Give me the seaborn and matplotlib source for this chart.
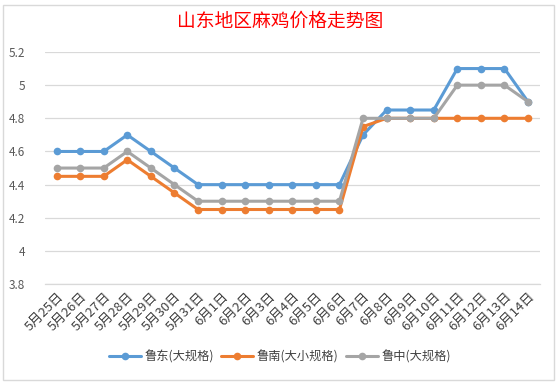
import pandas as pd
import numpy as np
import matplotlib
matplotlib.use("Agg")
import matplotlib.pyplot as plt
import seaborn as sns
from matplotlib.patches import Rectangle

dates = ["5月25日", "5月26日", "5月27日", "5月28日", "5月29日", "5月30日", "5月31日",
         "6月1日", "6月2日", "6月3日", "6月4日", "6月5日", "6月6日", "6月7日",
         "6月8日", "6月9日", "6月10日", "6月11日", "6月12日", "6月13日", "6月14日"]
ludong = [4.6, 4.6, 4.6, 4.7, 4.6, 4.5, 4.4, 4.4, 4.4, 4.4, 4.4, 4.4, 4.4, 4.7,
          4.85, 4.85, 4.85, 5.1, 5.1, 5.1, 4.9]
lunan = [4.45, 4.45, 4.45, 4.55, 4.45, 4.35, 4.25, 4.25, 4.25, 4.25, 4.25, 4.25, 4.25, 4.75,
         4.8, 4.8, 4.8, 4.8, 4.8, 4.8, 4.8]
luzhong = [4.5, 4.5, 4.5, 4.6, 4.5, 4.4, 4.3, 4.3, 4.3, 4.3, 4.3, 4.3, 4.3, 4.8,
           4.8, 4.8, 4.8, 5.0, 5.0, 5.0, 4.9]
series_names = ["鲁东(大规格)", "鲁南(大小规格)", "鲁中(大规格)"]
colors = ["#5B9BD5", "#ED7D31", "#A5A5A5"]

sns.set_style("white")
plt.rcParams['font.family'] = ['Noto Sans CJK SC', 'DejaVu Sans']

df = pd.DataFrame({
    "x": list(range(len(dates))) * 3,
    "price": ludong + lunan + luzhong,
    "series": [n for n in series_names for _ in dates],
})

fig = plt.figure(figsize=(5.6, 3.85), dpi=100)
ax = fig.add_axes([0.080, 0.262, 0.884, 0.603])

sns.lineplot(data=df, x="x", y="price", hue="series", hue_order=series_names,
             palette=colors, marker="o", markersize=5.5, markeredgewidth=0,
             linewidth=2.2, ax=ax, legend=True)

ax.set_xlim(-0.5, len(dates) - 0.5)
ax.set_ylim(3.8, 5.2)
ax.set_yticks(np.arange(3.8, 5.21, 0.2))
ax.set_yticklabels(["3.8", "4", "4.2", "4.4", "4.6", "4.8", "5", "5.2"])
ax.yaxis.grid(True, color="#D9D9D9", linewidth=0.9)
ax.set_axisbelow(True)
ax.set_xticks(range(len(dates)))
ax.set_xticklabels(dates, rotation=45, ha="right", rotation_mode="anchor")
ax.set_xticks(np.arange(-0.5, len(dates), 1), minor=True)
ax.tick_params(axis="x", which="major", length=0, labelsize=9.5, labelcolor="#404040", pad=4)
ax.tick_params(axis="x", which="minor", length=4, color="#D9D9D9", width=0.9)
ax.tick_params(axis="y", length=0, labelsize=8.5, labelcolor="#595959", pad=14)
for s in ["top", "right", "left"]:
    ax.spines[s].set_visible(False)
ax.spines["bottom"].set_color("#D9D9D9")
ax.spines["bottom"].set_linewidth(0.9)
ax.set_xlabel("")
ax.set_ylabel("")

handles, labels = ax.get_legend_handles_labels()
ax.legend(handles, labels, loc="center", bbox_to_anchor=(0.5, 0.073),
          bbox_transform=fig.transFigure, ncol=3, frameon=False,
          fontsize=8.8, handlelength=2.6, columnspacing=0.6, handletextpad=0.3,
          labelcolor="#404040")

fig.text(0.5, 0.945, "山东地区麻鸡价格走势图", ha="center", va="center",
         color="#FF0000", fontsize=13.5, fontweight="medium")

fig.patches.append(Rectangle((0.005, 0.012), 0.985, 0.975, transform=fig.transFigure,
                             fill=False, edgecolor="#D9D9D9", linewidth=1))

fig.savefig("out.png", dpi=100)
